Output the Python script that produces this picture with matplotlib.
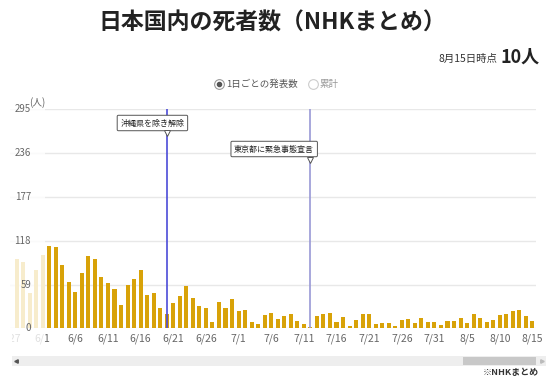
import numpy as np
import pandas as pd
import matplotlib
matplotlib.use('Agg')
import matplotlib.pyplot as plt
import matplotlib.transforms as mtrans
from matplotlib.patches import Rectangle
from matplotlib.lines import Line2D

plt.rcParams['font.family'] = ['Noto Sans CJK JP', 'DejaVu Sans']

# daily deaths, 5/28 .. 8/15
dates = pd.date_range('2021-05-28', '2021-08-15')
deaths = [94, 89, 48, 78, 99,
          111, 110, 85, 62, 49, 74, 97, 94, 69, 61, 53, 31, 59, 66, 78,
          45, 48, 27, 19, 34, 43, 57, 41, 30, 27, 9, 36, 28, 40,
          23, 24, 8, 6, 18, 21, 13, 16, 19, 10, 6, 2, 17, 19, 21, 9,
          15, 3, 11, 19, 19, 6, 7, 7, 3, 11, 12, 7, 14, 8, 8,
          5, 10, 10, 14, 7, 19, 14, 8, 11, 18, 19, 23, 24, 16, 10]
event_dates = pd.to_datetime(['2021-06-20', '2021-07-12'])
event_labels = ['沖縄県を除き解除', '東京都に緊急事態宣言']
event_colors = ['#4b4bd8', '#9898d6']
yticks = [0, 59, 118, 177, 236, 295]
tick_dates = pd.date_range('2021-05-27', '2021-08-15', freq='5D')

W, H = 559, 380
fig = plt.figure(figsize=(W / 100, H / 100), dpi=100)

def fx(px):
    return px / W

def fy(py):
    return 1 - py / H

origin = pd.Timestamp('2021-06-01')
x = np.array((dates - origin).days)
ex = np.array((event_dates - origin).days)

ax = fig.add_axes([fx(10), fy(328.3), fx(536) - fx(10), fy(109.3) - fy(328.3)])
ax.bar(x, deaths, width=0.62, color='#d8a208', zorder=2)
ax.set_xlim(-4.6, 75.55)
ax.set_ylim(0, 295)
ax.set_yticks(yticks)
ax.grid(axis='y', color='#e8e8e8', lw=1)
ax.set_axisbelow(True)
for s in ax.spines.values():
    s.set_visible(False)
ax.tick_params(axis='y', length=0, labelleft=False)
ax.set_xticks(np.array((tick_dates - origin).days))
ax.set_xticklabels([f'{d.month}/{d.day}' for d in tick_dates])
ax.tick_params(axis='x', length=0, pad=4, labelsize=7.5, labelcolor='#666')
clipbox = mtrans.TransformedBbox(mtrans.Bbox.from_extents(fx(11.5), 0, 1, 1), fig.transFigure)
for t in ax.get_xticklabels():
    t.set_clip_box(clipbox)
    t.set_clip_on(True)

# event lines + callouts
box_off = [(-14.3, 13.7), (-36.2, 39.7)]
tip_off = [23.7, 50.2]
for xi, lab, c, (dx, dy), tip in zip(ex, event_labels, event_colors, box_off, tip_off):
    ax.axvline(xi, color=c, lw=1.2, zorder=3)
    ax.annotate(lab, xy=(xi, 295), xytext=(dx * 0.72, -dy * 0.72), textcoords='offset points',
                ha='center', va='center', fontsize=5.8, color='#222', zorder=5,
                bbox=dict(boxstyle='round,pad=0.4,rounding_size=0.15', fc='white', ec='#555', lw=0.7))
    tr = mtrans.offset_copy(ax.transData, fig, x=0, y=-tip, units='dots')
    ax.plot([xi], [295], marker='v', ms=4.5, mfc='white', mec='#555', mew=0.7,
            transform=tr, zorder=6, clip_on=False)

# left fade of scrolled area
fig.add_artist(Rectangle((0, fy(346)), fx(44.5), fy(100) - fy(346), transform=fig.transFigure,
                         facecolor='white', alpha=0.8, edgecolor='none', zorder=2))

ytr = mtrans.blended_transform_factory(fig.transFigure, ax.transData)
for v in yticks:
    fig.text(fx(31), v, str(v), transform=ytr, ha='right', va='center',
             fontsize=7, color='#666', zorder=3)
fig.text(fx(37), fy(103), '(人)', ha='center', va='center', fontsize=7, color='#666', zorder=3)

# header
fig.text(fx(272), fy(23), '日本国内の死者数（NHKまとめ）', ha='center', va='center',
         fontsize=16.5, fontweight='bold', color='#222')
fig.text(fx(497), fy(59), '8月15日時点', ha='right', va='center', fontsize=7.5, color='#333')
fig.text(fx(500), fy(57), '10人', ha='left', va='center', fontsize=13, fontweight='bold', color='#222')

# radio buttons
fig.add_artist(Line2D([fx(219)], [fy(84)], marker='o', ms=7, mfc='white', mec='#999', mew=0.8,
                      transform=fig.transFigure))
fig.add_artist(Line2D([fx(219)], [fy(84)], marker='o', ms=3, mfc='#555', mec='#555',
                      transform=fig.transFigure))
fig.text(fx(226), fy(84), '1日ごとの発表数', ha='left', va='center', fontsize=6.8, color='#555')
fig.add_artist(Line2D([fx(313)], [fy(84)], marker='o', ms=7, mfc='white', mec='#ccc', mew=0.8,
                      transform=fig.transFigure))
fig.text(fx(320), fy(84), '累計', ha='left', va='center', fontsize=6.8, color='#999')

# scrollbar
fig.add_artist(Rectangle((fx(12), fy(366)), fx(546) - fx(12), fy(356) - fy(366),
                         transform=fig.transFigure, facecolor='#eeeeee', edgecolor='none'))
fig.add_artist(Rectangle((fx(463), fy(365)), fx(536) - fx(463), fy(357) - fy(365),
                         transform=fig.transFigure, facecolor='#c8c8c8', edgecolor='none'))
fig.add_artist(Line2D([fx(16)], [fy(361)], marker='<', ms=2.5, color='#555', transform=fig.transFigure))
fig.add_artist(Line2D([fx(542)], [fy(361)], marker='>', ms=2.5, color='#bbb', transform=fig.transFigure))

fig.text(fx(539), fy(373), '※NHKまとめ', ha='right', va='center', fontsize=6.5,
         fontweight='bold', color='#333')

fig.savefig('out.png', dpi=100)
